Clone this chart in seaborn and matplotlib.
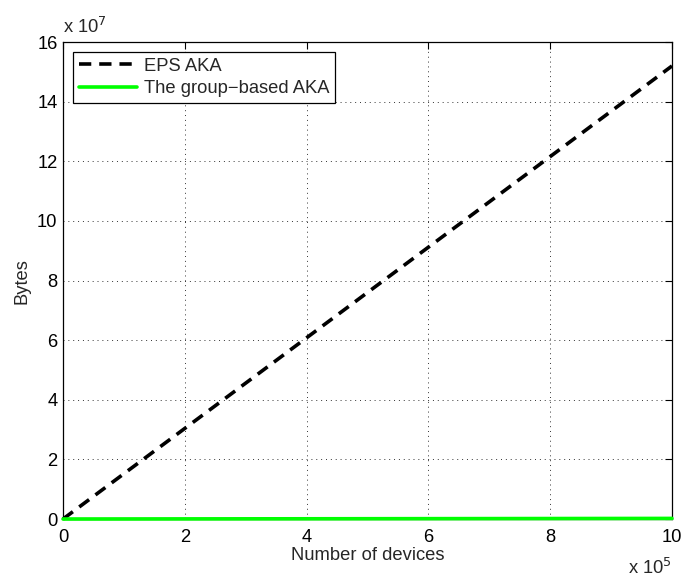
import matplotlib
matplotlib.use("Agg")
import matplotlib.pyplot as plt
import seaborn as sns
import numpy as np
import pandas as pd
from matplotlib.ticker import FuncFormatter, MultipleLocator
from matplotlib.lines import Line2D

devices = [0, 100000, 200000, 300000, 400000, 500000, 600000, 700000, 800000, 900000, 1000000]
eps_aka = [0, 1.52e7, 3.04e7, 4.56e7, 6.08e7, 7.60e7, 9.12e7, 10.64e7, 12.16e7, 13.68e7, 15.2e7]
group_aka = [0, 2.0e4, 4.0e4, 6.0e4, 8.0e4, 1.0e5, 1.2e5, 1.4e5, 1.6e5, 1.8e5, 2.0e5]
series_names = ["EPS AKA", "The group\u2212based AKA"]

sns.set_theme(style="white")
plt.rcParams['font.family'] = ['Liberation Sans', 'DejaVu Sans']

FS = 13.2

df = pd.DataFrame({
    "x": devices * 2,
    "y": eps_aka + group_aka,
    "s": [series_names[0]] * len(devices) + [series_names[1]] * len(devices),
})

fig = plt.figure(figsize=(6.85, 5.77), dpi=100)
ax = fig.add_axes([0.092, 0.1005, 0.889, 0.8265])

sns.lineplot(data=df, x="x", y="y", hue="s", style="s",
             palette={series_names[0]: "black", series_names[1]: "#00ff00"},
             dashes={series_names[0]: (3.4, 2.2), series_names[1]: ""},
             linewidth=2.6, ax=ax, legend=False)
for ln in ax.lines:
    ln.set_clip_on(False)
    ln.set_zorder(5)

ax.set_xlim(0, 1e6)
ax.set_ylim(0, 1.6e8)
ax.xaxis.set_major_locator(MultipleLocator(2e5))
ax.yaxis.set_major_locator(MultipleLocator(2e7))
ax.xaxis.set_major_formatter(FuncFormatter(lambda v, p: f"{v/1e5:g}"))
ax.yaxis.set_major_formatter(FuncFormatter(lambda v, p: f"{v/1e7:g}"))
ax.tick_params(which="both", direction="in", top=True, right=True, labelsize=FS, colors="black")
ax.tick_params(axis="x", pad=7)
ax.tick_params(axis="y", pad=4)
ax.tick_params(which="major", length=5, width=0.8)
for s in ax.spines.values():
    s.set_color("black")
    s.set_linewidth(0.9)
ax.grid(True, which="major", linestyle=(0, (1, 4)), color="#333333", linewidth=0.7)

ax.set_xlabel("Number of devices", fontsize=FS, labelpad=1)
ax.set_ylabel("Bytes", fontsize=FS, labelpad=5)

ax.text(0.0, 1.01, r"x 10$^{7}$", transform=ax.transAxes, fontsize=FS, ha="left", va="bottom")
ax.text(1.0, -0.082, r"x 10$^{5}$", transform=ax.transAxes, fontsize=FS, ha="right", va="top")

handles = [Line2D([], [], color="black", linestyle=(0, (3.4, 2.2)), linewidth=2.6),
           Line2D([], [], color="#00ff00", linewidth=2.6)]
leg = ax.legend(handles, series_names, loc="upper left", fontsize=FS, frameon=True,
                fancybox=False, edgecolor="black", framealpha=1, borderpad=0.3,
                handlelength=3.2, handletextpad=0.35, labelspacing=0.3,
                borderaxespad=0.55)
leg.get_frame().set_linewidth(0.9)
leg.set_zorder(10)

fig.savefig("out.png", dpi=100)
